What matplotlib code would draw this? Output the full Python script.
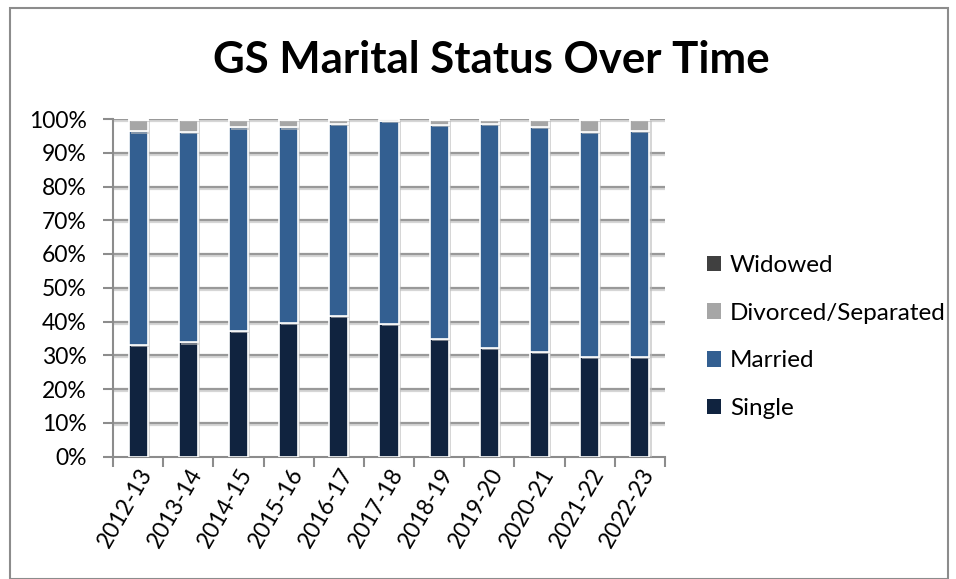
import matplotlib
matplotlib.use("Agg")
import matplotlib.pyplot as plt
import matplotlib.patheffects as pe
from matplotlib.patches import Rectangle, Patch
from matplotlib.ticker import FixedLocator, PercentFormatter
import numpy as np

plt.rcParams['font.family'] = ['Lato', 'DejaVu Sans']

years = ["2012-13", "2013-14", "2014-15", "2015-16", "2016-17", "2017-18",
         "2018-19", "2019-20", "2020-21", "2021-22", "2022-23"]
single = [33.0, 33.8, 37.1, 39.5, 41.6, 39.3, 34.8, 32.2, 31.0, 29.6, 29.6]
married = [63.3, 62.3, 60.4, 58.0, 56.8, 60.2, 63.3, 66.2, 66.6, 66.5, 66.9]
divorced = [3.5, 3.7, 2.3, 2.3, 1.4, 0.4, 1.7, 1.4, 2.2, 3.7, 3.3]
widowed = [0.2, 0.2, 0.2, 0.2, 0.2, 0.1, 0.2, 0.2, 0.2, 0.2, 0.2]

series = [("Single", single, "#10233F"),
          ("Married", married, "#335F91"),
          ("Divorced/Separated", divorced, "#A6A6A6"),
          ("Widowed", widowed, "#404040")]

fig = plt.figure(figsize=(9.56, 5.79), dpi=100)
W, H = 956, 579
ax = fig.add_axes([113 / W, 1 - 456.5 / H, 552 / W, 337.5 / H])

x = np.arange(len(years))
bottom = np.zeros(len(years))
shadow = [pe.SimplePatchShadow(offset=(1.5, -1.5), shadow_rgbFace='#bbbbbb', alpha=0.6), pe.Normal()]
for name, vals, col in series:
    v = np.array(vals)
    ax.bar(x, v, width=0.38, bottom=bottom, color=col, edgecolor='white',
           linewidth=1.2, label=name, zorder=3, path_effects=shadow)
    bottom += v

ax.set_xlim(-0.5, len(years) - 0.5)
ax.set_ylim(0, 100)
ax.yaxis.set_major_locator(FixedLocator(np.arange(0, 101, 10)))
ax.yaxis.set_major_formatter(PercentFormatter(decimals=0))
ax.set_xticks(x)
ax.set_xticklabels(years, rotation=60, ha='right', va='top', rotation_mode='anchor', fontsize=16.5)
ax.xaxis.set_minor_locator(FixedLocator(np.arange(-0.5, len(years), 1)))
ax.tick_params(axis='x', which='major', length=0, pad=6)
ax.tick_params(axis='x', which='minor', length=7, width=1.5, color='#8c8c8c')
ax.tick_params(axis='y', length=7, width=1.5, color='#8c8c8c', labelsize=16.5, pad=12)

grid_fx = [pe.SimpleLineShadow(offset=(0, -1.5), shadow_color='#cccccc', alpha=0.8), pe.Normal()]
for yv in np.arange(10, 101, 10):
    ax.axhline(yv, color='#999999', lw=1.6, zorder=1, path_effects=grid_fx)

for s in ['top', 'right']:
    ax.spines[s].set_visible(False)
for s in ['left', 'bottom']:
    ax.spines[s].set_color('#8c8c8c')
    ax.spines[s].set_linewidth(1.5)

fig.text(491 / W, 1 - 60 / H, "GS Marital Status Over Time", ha='center', va='center',
         fontsize=31.5, fontweight='bold')

handles = [Patch(facecolor=col, edgecolor='none', label=name) for name, vals, col in series][::-1]
fig.legend(handles=handles, loc='center left', bbox_to_anchor=(685 / W, 1 - 337 / H),
           frameon=False, fontsize=17.5, handlelength=0.6, handleheight=0.6,
           handletextpad=0.35, labelspacing=1.1)

fig.patches.append(Rectangle((10 / W, 0), 938 / W, 1 - 8 / H, transform=fig.transFigure,
                             fill=False, edgecolor='#8c8c8c', linewidth=1.5))

fig.savefig("out.png", dpi=100)
